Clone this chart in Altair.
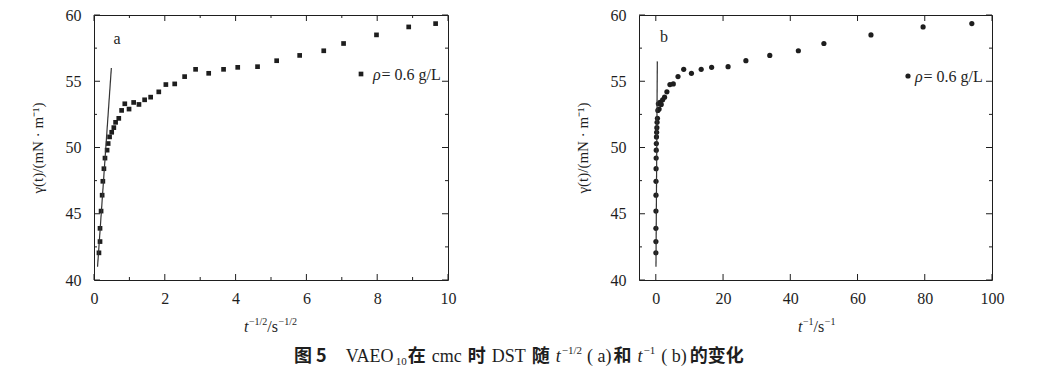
import altair as alt
import pandas as pd

# ---------------- data ----------------
T_HALF = [0.14, 0.17, 0.17, 0.20, 0.23, 0.25, 0.28, 0.31, 0.37, 0.40,
          0.44, 0.50, 0.56, 0.61, 0.70, 0.78, 0.87, 0.99, 1.12, 1.27,
          1.43, 1.60, 1.83, 2.03, 2.28, 2.56, 2.87, 3.24, 3.66, 4.06,
          4.62, 5.16, 5.81, 6.49, 7.05, 7.98, 8.89, 9.65]
GAMMA = [42.05, 42.9, 43.9, 45.2, 46.4, 47.45, 48.4, 49.2, 49.8, 50.3,
         50.8, 51.15, 51.5, 51.9, 52.2, 52.8, 53.3, 52.9, 53.4, 53.25,
         53.6, 53.8, 54.2, 54.75, 54.8, 55.35, 55.9, 55.6, 55.9, 56.05,
         56.1, 56.55, 56.95, 57.3, 57.85, 58.5, 59.1, 59.35]
T_INV = [0.02, 0.03, 0.03, 0.04, 0.05, 0.06, 0.08, 0.10, 0.14, 0.16,
         0.19, 0.25, 0.31, 0.37, 0.49, 0.61, 0.76, 0.98, 1.25, 1.61,
         2.04, 2.6, 3.3, 4.2, 5.2, 6.6, 8.3, 10.6, 13.5, 16.6,
         21.5, 26.8, 33.9, 42.4, 50.0, 64.0, 79.5, 94.0]

FIT_A_X = [0.10, 0.49]
FIT_A_Y = [41.0, 56.0]
FIT_B_X = [0.05, 0.45]
FIT_B_Y = [41.0, 56.5]

A_X_DOMAIN = [0, 10]
B_X_DOMAIN = [-5, 100]
Y_DOMAIN = [40, 60]
A_X_MAJOR = [0, 2, 4, 6, 8, 10]
A_X_MINOR = [1, 3, 5, 7, 9]
B_X_MAJOR = [0, 20, 40, 60, 80, 100]
Y_MAJOR = [40, 45, 50, 55, 60]
Y_MINOR = [42.5, 47.5, 52.5, 57.5]

LEGEND_TEXT = ["ρ", "= 0.6 g/L"]
Y_TITLE = "γ(t)/(mN · m⁻¹)"
TITLE_A = [("t", "i", 16, 0), ("−1/2", "n", 10, -7), ("/s", "n", 16, 0), ("−1/2", "n", 10, -7)]
TITLE_B = [("t", "i", 16, 0), ("−1", "n", 10, -7), ("/s", "n", 16, 0), ("−1", "n", 10, -7)]
CAPTION = [
    ("图 5", "c", 18, 0, 0), ("VAEO", "n", 18, 0, 20), ("10", "n", 11, 3, 0),
    ("在", "c", 18, 0, 1), ("cmc", "n", 18, 0, 6), ("时", "c", 18, 0, 6),
    ("DST", "n", 18, 0, 6), ("随", "c", 18, 0, 6), ("t", "i", 18, 0, 6),
    ("−1/2", "n", 11, -8, 1), ("( a)", "n", 18, 0, 5), ("和", "c", 18, 0, 2),
    ("t", "i", 18, 0, 6), ("−1", "n", 11, -8, 1), ("( b)", "n", 18, 0, 6),
    ("的变化", "c", 18, 0, 3),
]

# ---------------- style ----------------
W_A, W_B, H = 354, 353, 265
SERIF = "Liberation Serif"
CJK = "Noto Sans CJK SC"
INK = "#1e1e1e"
MAJ, MIN = 6, 3

SERIF_W = {' ': .25, '.': .25, '/': .278, '=': .564, '−': .564, '(': .333, ')': .333,
           'a': .444, 'b': .5, 'c': .444, 'g': .5, 'm': .778, 's': .389, 't': .278,
           'A': .722, 'D': .722, 'E': .611, 'L': .611, 'O': .722, 'S': .556, 'T': .611,
           'V': .722, 'ρ': .5}


def text_width(txt, kind, size):
    w = 0.0
    for ch in txt:
        if kind == "c":
            if ch.isdigit():
                w += .55
            elif ch == ' ':
                w += .22
            else:
                w += 1.0
        else:
            w += .5 if ch.isdigit() else SERIF_W.get(ch, .5)
    return w * size


def piece(txt, x, y, kind, size, align="left", baseline="alphabetic"):
    font = CJK if kind == "c" else SERIF
    style = "italic" if kind == "i" else "normal"
    weight = "bold" if kind == "c" else "normal"
    return alt.Chart(pd.DataFrame({"t": [txt]})).mark_text(
        font=font, fontSize=size, fontStyle=style, fontWeight=weight,
        align=align, baseline=baseline, color=INK
    ).encode(text="t:N", x=alt.value(x), y=alt.value(y))


def run(pieces, x0, y0, with_gap):
    out = []
    x = x0
    for p in pieces:
        if with_gap:
            txt, kind, size, dy, gap = p
        else:
            txt, kind, size, dy = p
            gap = 0.5 if size < 14 else 0
        x += gap
        out.append(piece(txt, x, y0 + dy, kind, size))
        x += text_width(txt, kind, size)
    return out


def tick_rules(values, orient, scale, axis, W, length):
    base = alt.Chart(pd.DataFrame({"v": values})).mark_rule(color=INK, strokeWidth=1)
    if orient == "left":
        return base.encode(y=alt.Y("v:Q", scale=scale, axis=axis), x=alt.value(0), x2=alt.value(length))
    if orient == "right":
        return base.encode(y=alt.Y("v:Q", scale=scale, axis=axis), x=alt.value(W), x2=alt.value(W - length))
    if orient == "bottom":
        return base.encode(x=alt.X("v:Q", scale=scale, axis=axis), y=alt.value(H), y2=alt.value(H - length))
    return base.encode(x=alt.X("v:Q", scale=scale, axis=axis), y=alt.value(0), y2=alt.value(length))


def panel(xvals, mark, size, fit_x, fit_y, x_domain, x_major, x_minor, W,
          tag, tag_pos, legend_pos, legend_text_x, title_pieces, title_x, extra=()):
    xs = alt.Scale(domain=x_domain, nice=False, zero=False)
    ys = alt.Scale(domain=Y_DOMAIN, nice=False, zero=False)
    x_axis = alt.Axis(values=x_major, format="d", ticks=False, domain=False, grid=False,
                      labelFont=SERIF, labelFontSize=16, labelColor=INK, labelPadding=10,
                      labelFlush=False, title=None)
    y_axis = alt.Axis(values=Y_MAJOR, format="d", ticks=False, domain=False, grid=False,
                      labelFont=SERIF, labelFontSize=16, labelColor=INK, labelPadding=13,
                      title=Y_TITLE, titleFont=SERIF, titleFontSize=15, titleFontWeight="normal",
                      titleColor=INK, titlePadding=20)
    df = pd.DataFrame({"x": xvals, "y": GAMMA})
    if mark == "square":
        pts = alt.Chart(df).mark_square(size=size, color=INK, opacity=1)
        leg = alt.Chart(pd.DataFrame({"k": [0]})).mark_square(size=size, color=INK, opacity=1)
    else:
        pts = alt.Chart(df).mark_circle(size=size, color=INK, opacity=1)
        leg = alt.Chart(pd.DataFrame({"k": [0]})).mark_circle(size=size, color=INK, opacity=1)
    pts = pts.encode(x=alt.X("x:Q", scale=xs, axis=x_axis), y=alt.Y("y:Q", scale=ys, axis=y_axis))
    fit = alt.Chart(pd.DataFrame({"x": fit_x, "y": fit_y})).mark_line(color="#333333", strokeWidth=1.2).encode(
        x=alt.X("x:Q", scale=xs, axis=x_axis), y=alt.Y("y:Q", scale=ys, axis=y_axis))
    leg = leg.encode(x=alt.value(legend_pos[0]), y=alt.value(legend_pos[1]))
    layers = [pts, fit,
              tick_rules(Y_MAJOR, "left", ys, y_axis, W, MAJ), tick_rules(Y_MINOR, "left", ys, y_axis, W, MIN),
              tick_rules(Y_MAJOR, "right", ys, y_axis, W, MAJ), tick_rules(Y_MINOR, "right", ys, y_axis, W, MIN),
              tick_rules(x_major, "bottom", xs, x_axis, W, MAJ), tick_rules(x_major, "top", xs, x_axis, W, MAJ),
              leg,
              piece(tag, tag_pos[0], tag_pos[1], "n", 16, align="center", baseline="middle"),
              piece(LEGEND_TEXT[0], legend_text_x, legend_pos[1] + 6, "i", 16),
              piece(LEGEND_TEXT[1], legend_text_x + 8.5, legend_pos[1] + 6, "n", 16)]
    if x_minor:
        layers += [tick_rules(x_minor, "bottom", xs, x_axis, W, MIN), tick_rules(x_minor, "top", xs, x_axis, W, MIN)]
    layers += run(title_pieces, title_x, 317, False)
    layers += list(extra)
    return alt.layer(*layers).properties(width=W, height=H)


caption_layers = run(CAPTION, 293 - 93, 347, True)

panel_a = panel(T_HALF, "square", 22, FIT_A_X, FIT_A_Y, A_X_DOMAIN, A_X_MAJOR, A_X_MINOR, W_A,
                "a", (23, 24), (267, 59), 279, TITLE_A, 150, extra=caption_layers)
panel_b = panel(T_INV, "circle", 27, FIT_B_X, FIT_B_Y, B_X_DOMAIN, B_X_MAJOR, [], W_B,
                "b", (25, 22), (269, 61), 276, TITLE_B, 159)

chart = alt.hconcat(panel_a, panel_b, spacing=191, bounds="flush").properties(
    padding={"left": 21, "top": -2, "right": 5, "bottom": 0},
    background="white",
).configure_view(stroke=INK, strokeWidth=1)

chart.save("out.html", embed_options={"renderer": "svg", "actions": False})
